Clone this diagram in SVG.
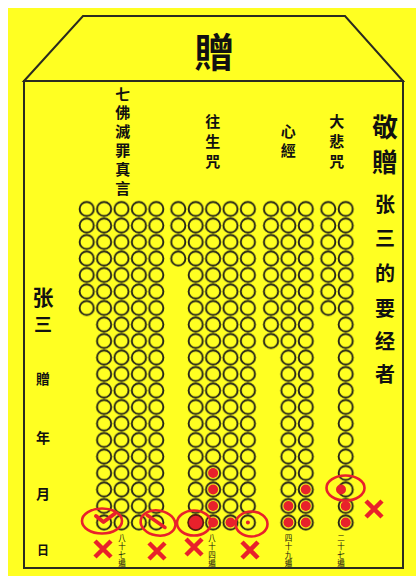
<svg xmlns="http://www.w3.org/2000/svg" width="416" height="576" viewBox="0 0 416 576">
<style>
.frame{fill:none;stroke:#2b2b20;stroke-width:2}
.t{font-family:"Noto Sans CJK TC","Noto Sans CJK SC",sans-serif;fill:#111;text-anchor:middle;dominant-baseline:central;font-weight:bold}
.col{font-family:"Noto Sans CJK TC","Noto Sans CJK SC",sans-serif;fill:#111;writing-mode:vertical-rl;font-size:15px;font-weight:bold}
.v{font-family:"Noto Sans CJK TC","Noto Sans CJK SC",sans-serif;fill:#111;writing-mode:vertical-rl;font-size:7.5px;letter-spacing:1px}
.dot{fill:#e8212b}
.ring{fill:none;stroke:#e8212b;stroke-width:2.6}
.x{stroke:#e8212b;stroke-width:4.5;stroke-linecap:butt;fill:none}
</style>
<defs>
<pattern id="grid" patternUnits="userSpaceOnUse" width="17.4" height="16.5">
<circle cx="8.7" cy="8.25" r="7.1" fill="none" stroke="#222218" stroke-width="1.9"/>
</pattern>
<g id="xm"><path class="x" d="M-8,-8L8,8M8,-8L-8,8"/></g>
</defs>
<rect x="8" y="8" width="408" height="568" fill="#ffff22"/>
<g id="envelope">
<path class="frame" d="M24,81L83,16L345,16L403,81Z"/>
<rect class="frame" x="24" y="81" width="379" height="487"/>
</g>
<g id="title"><text class="t" x="214.5" y="50" font-size="40">贈</text></g>
<g id="labels">
<text class="col" x="122.7" y="86.5" letter-spacing="3.8">七佛滅罪真言</text>
<text class="col" x="212.7" y="114.2" letter-spacing="5">往生咒</text>
<text class="col" x="288.3" y="124.2" letter-spacing="3.8">心經</text>
<text class="col" x="336.7" y="114.2" letter-spacing="5">大悲咒</text>
</g>
<g id="dedication">
<text class="t" font-size="26"><tspan x="385" y="125">敬</tspan><tspan x="385" y="160">贈</tspan></text>
<text class="t" font-size="20"><tspan x="385" y="203">张</tspan><tspan x="385" y="237">三</tspan><tspan x="385" y="272">的</tspan><tspan x="385" y="307">要</tspan><tspan x="385" y="340">经</tspan><tspan x="385" y="373">者</tspan></text>
</g>
<g id="signature">
<text class="t" font-size="21"><tspan x="43" y="296">张</tspan></text>
<text class="t" font-size="18"><tspan x="43" y="323">三</tspan></text>
<text class="t" font-size="14"><tspan x="43" y="378">贈</tspan><tspan x="43" y="437">年</tspan><tspan x="43" y="493">月</tspan></text>
<text class="t" font-size="12"><tspan x="43" y="549">日</tspan></text>
</g>
<g id="grid-qifo" transform="translate(78,200.75)" fill="url(#grid)">
<rect x="0" y="0" width="17.4" height="115.5"/>
<rect x="17.4" y="0" width="69.6" height="330"/>
</g>
<g id="grid-wangsheng" transform="translate(169.6,200.75)" fill="url(#grid)">
<rect x="0" y="0" width="17.4" height="66"/>
<rect x="17.4" y="0" width="69.6" height="330"/>
</g>
<g id="grid-xinjing" transform="translate(262.3,200.75)" fill="url(#grid)">
<rect x="0" y="0" width="17.4" height="148.5"/>
<rect x="17.4" y="0" width="34.8" height="330"/>
</g>
<g id="grid-dabei" transform="translate(319.6,200.75)" fill="url(#grid)">
<rect x="0" y="0" width="17.4" height="115.5"/>
<rect x="17.4" y="0" width="17.4" height="330"/>
</g>
<g id="counts">
<text class="v" x="122" y="534">八十七遍</text>
<text class="v" x="212" y="534">八十四遍</text>
<text class="v" x="288.5" y="534">四十九遍</text>
<text class="v" x="341" y="534">二十七遍</text>
</g>
<g id="marks">
<circle class="dot" cx="213.1" cy="473" r="5"/>
<circle class="dot" cx="213.1" cy="489.5" r="5"/>
<circle class="dot" cx="213.1" cy="506" r="5"/>
<circle class="dot" cx="213.1" cy="522.5" r="5"/>
<circle class="dot" cx="230.5" cy="522.5" r="5"/>
<circle class="dot" cx="288.4" cy="506" r="5"/>
<circle class="dot" cx="288.4" cy="522.5" r="5"/>
<circle class="dot" cx="305.8" cy="489.5" r="5"/>
<circle class="dot" cx="305.8" cy="506" r="5"/>
<circle class="dot" cx="305.8" cy="522.5" r="5"/>
<circle class="dot" cx="345.7" cy="506" r="5"/>
<circle class="dot" cx="345.7" cy="522.5" r="5"/>
<circle class="dot" cx="341" cy="489.5" r="5"/>
<circle cx="195.7" cy="522.5" r="7.6" fill="#e8212b" stroke="#5a1a10" stroke-width="1.6"/>
<circle class="dot" cx="247.9" cy="522.5" r="2"/>
<path d="M96,516L103.5,522L115,513.5" fill="none" stroke="#e8212b" stroke-width="4" stroke-linecap="round" stroke-linejoin="round"/>
<path d="M147,515L165,527.5" fill="none" stroke="#e8212b" stroke-width="3.5" stroke-linecap="round"/>
<ellipse class="ring" cx="102" cy="521" rx="20" ry="12.5"/>
<ellipse class="ring" cx="158" cy="523" rx="17.5" ry="12.5" transform="rotate(10 158 523)"/>
<ellipse class="ring" cx="194" cy="523" rx="17" ry="12.5"/>
<ellipse class="ring" cx="251.5" cy="524" rx="16" ry="12.5"/>
<ellipse class="ring" cx="345.5" cy="488" rx="19" ry="12.5"/>
<use href="#xm" x="103" y="549"/>
<use href="#xm" x="157" y="551"/>
<use href="#xm" x="194" y="547"/>
<use href="#xm" x="250" y="550"/>
<use href="#xm" x="374" y="509"/>
</g>
</svg>
